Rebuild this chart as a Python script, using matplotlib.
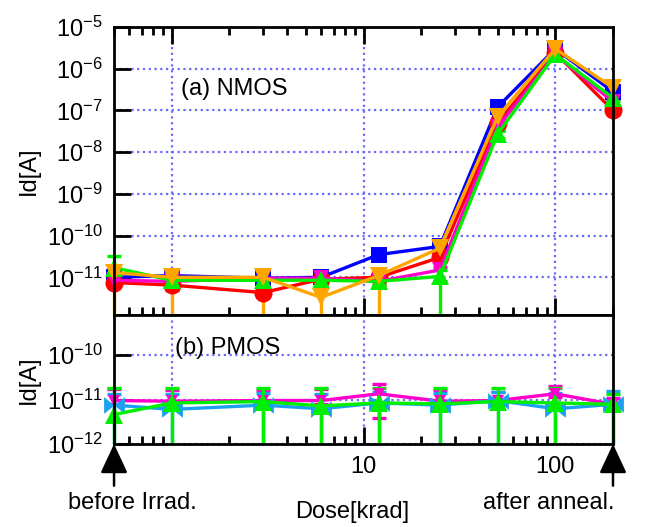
import numpy as np
import matplotlib
matplotlib.use("Agg")
import matplotlib.pyplot as plt
from matplotlib.ticker import FuncFormatter, NullFormatter, LogLocator

plt.rcParams['font.family'] = ['Liberation Sans', 'DejaVu Sans']
plt.rcParams['mathtext.fontset'] = 'custom'
plt.rcParams['mathtext.rm'] = 'Liberation Sans'

# dose points (0.5 = before irradiation, 200 = after anneal)
doses = [0.5, 1, 3, 6, 12, 25, 50, 100, 200]

# (a) NMOS drain current [A]
nmos_blue = [1.0e-11, 1.1e-11, 0.95e-11, 1.0e-11, 3.5e-11, 5.5e-11, 1.2e-7, 3.0e-6, 2.8e-7]
nmos_red = [0.75e-11, 0.65e-11, 0.43e-11, 0.9e-11, 1.0e-11, 3.0e-11, 5.0e-8, 2.4e-6, 1.0e-7]
nmos_magenta = [0.85e-11, 0.8e-11, 0.95e-11, 0.95e-11, 0.8e-11, 1.5e-11, 4.0e-8, 2.2e-6, 1.6e-7]
nmos_green = [1.7e-11, 0.85e-11, 0.85e-11, 0.85e-11, 0.8e-11, 1.05e-11, 2.7e-8, 2.2e-6, 2.0e-7]
nmos_orange = [1.3e-11, 1.0e-11, 1.0e-11, 0.33e-11, 1.1e-11, 5.0e-11, 7.0e-8, 3.0e-6, 3.5e-7]

# error bar bounds (low, high); 0 = bar runs down to the bottom of the panel
nmos_blue_lo = [0.8e-11, 0.9e-11, 0.8e-11, 0.8e-11, 3.0e-11, 4.5e-11, 1.0e-7, 2.6e-6, 2.4e-7]
nmos_blue_hi = [1.3e-11, 1.4e-11, 1.2e-11, 1.3e-11, 4.0e-11, 6.5e-11, 1.4e-7, 3.4e-6, 3.2e-7]
nmos_red_lo = [0.6e-11, 0.5e-11, 0.35e-11, 0.7e-11, 0.8e-11, 2.4e-11, 4.0e-8, 2.0e-6, 0.8e-7]
nmos_red_hi = [1.2e-11, 1.2e-11, 1.1e-11, 1.25e-11, 1.4e-11, 3.5e-11, 6.0e-8, 2.8e-6, 1.2e-7]
nmos_magenta_lo = [0.7e-11, 0.65e-11, 0.8e-11, 0.8e-11, 0.65e-11, 0.8e-11, 3.4e-8, 1.9e-6, 1.3e-7]
nmos_magenta_hi = [1.0e-11, 1.0e-11, 1.1e-11, 1.1e-11, 1.0e-11, 1.8e-11, 4.6e-8, 2.5e-6, 1.9e-7]
nmos_green_lo = [1.2e-11, 0.7e-11, 0.7e-11, 0.7e-11, 0.65e-11, 0, 2.2e-8, 1.9e-6, 1.7e-7]
nmos_green_hi = [3.2e-11, 1.3e-11, 1.3e-11, 1.3e-11, 1.2e-11, 1.5e-11, 3.2e-8, 2.5e-6, 2.3e-7]
nmos_orange_lo = [0, 0, 0, 0, 0, 4.0e-11, 6.0e-8, 2.6e-6, 3.0e-7]
nmos_orange_hi = [1.6e-11, 1.4e-11, 1.4e-11, 1.2e-11, 1.6e-11, 6.0e-11, 8.0e-8, 3.4e-6, 4.0e-7]

# (b) PMOS drain current [A]
pmos_magenta = [0.95e-11, 0.92e-11, 0.95e-11, 0.95e-11, 1.35e-11, 0.92e-11, 0.95e-11, 1.35e-11, 0.78e-11]
pmos_cyan = [0.75e-11, 0.6e-11, 0.75e-11, 0.62e-11, 0.84e-11, 0.75e-11, 0.95e-11, 0.62e-11, 0.78e-11]
pmos_green = [0.46e-11, 0.84e-11, 0.9e-11, 0.72e-11, 0.84e-11, 0.8e-11, 0.9e-11, 0.84e-11, 0.78e-11]

pmos_magenta_lo = [0.8e-11, 0.8e-11, 0.8e-11, 0.8e-11, 0.38e-11, 0.8e-11, 0.8e-11, 1.15e-11, 0.65e-11]
pmos_magenta_hi = [1.7e-11, 1.6e-11, 1.6e-11, 1.7e-11, 2.2e-11, 1.6e-11, 1.5e-11, 2.0e-11, 1.1e-11]
pmos_cyan_lo = [0] * 9
pmos_cyan_hi = [1.35e-11, 1.3e-11, 1.4e-11, 1.3e-11, 1.5e-11, 1.4e-11, 1.5e-11, 1.4e-11, 1.55e-11]
pmos_green_lo = [0] * 9
pmos_green_hi = [1.8e-11, 1.8e-11, 1.8e-11, 1.8e-11, 1.8e-11, 1.8e-11, 1.8e-11, 1.8e-11, 1.3e-11]

top_ylim = (1.25e-12, 1e-5)
bot_ylim = (1e-12, 8e-10)

bowtie = [(-1, 0.8), (1, -0.8), (1, 0.8), (-1, -0.8), (-1, 0.8)]
grid_col = '#6a6aff'
FS = 17


def draw(ax, y, lo, hi, color, marker, ms, ymin):
    y = np.array(y)
    lo = np.array(lo, dtype=float)
    hi = np.array(hi)
    has_lo = lo > 0
    lo_b = np.where(has_lo, lo, ymin)
    ax.errorbar(doses, y, yerr=[y - lo_b, hi - y], color=color, marker=marker, ms=ms,
                lw=2.4, elinewidth=2.4, capsize=0, mew=0, clip_on=False)
    ax.plot(doses, hi, ls='none', marker='_', ms=10, mew=2.4, color=color, clip_on=False)
    ax.plot(np.array(doses)[has_lo], lo[has_lo], ls='none', marker='_', ms=10, mew=2.4,
            color=color, clip_on=False)


fig = plt.figure(figsize=(6.48, 5.27), dpi=100)
ax1 = fig.add_axes([0.176, 0.4023, 0.770, 0.5465])
ax2 = fig.add_axes([0.176, 0.1575, 0.770, 0.2448])

draw(ax1, nmos_blue, nmos_blue_lo, nmos_blue_hi, '#0000ff', 's', 11, top_ylim[0])
draw(ax1, nmos_red, nmos_red_lo, nmos_red_hi, '#ff0000', 'o', 13, top_ylim[0])
draw(ax1, nmos_magenta, nmos_magenta_lo, nmos_magenta_hi, '#ff00cc', 'v', 11, top_ylim[0])
draw(ax1, nmos_green, nmos_green_lo, nmos_green_hi, '#00ee00', '^', 13, top_ylim[0])
draw(ax1, nmos_orange, nmos_orange_lo, nmos_orange_hi, '#ffa500', 'v', 13, top_ylim[0])

draw(ax2, pmos_magenta, pmos_magenta_lo, pmos_magenta_hi, '#ff00cc', 'v', 9, bot_ylim[0])
draw(ax2, pmos_cyan, pmos_cyan_lo, pmos_cyan_hi, '#1ea0f0', bowtie, 15, bot_ylim[0])
draw(ax2, pmos_green, pmos_green_lo, pmos_green_hi, '#00ee00', '^', 13, bot_ylim[0])

yfmt = FuncFormatter(lambda v, p: r'$\mathregular{10^{%d}}$' % round(np.log10(v)))

for ax in (ax1, ax2):
    ax.set_xscale('log')
    ax.set_yscale('log')
    ax.set_xlim(0.5, 200)
    ax.set_xticks([1, 10, 100])
    ax.xaxis.set_minor_locator(LogLocator(base=10, subs=np.arange(2, 10)))
    ax.xaxis.set_minor_formatter(NullFormatter())
    ax.yaxis.set_minor_locator(plt.NullLocator())
    ax.yaxis.set_major_formatter(yfmt)
    for s in ax.spines.values():
        s.set_linewidth(2)
        s.set_zorder(5)
    ax.tick_params(axis='both', which='major', direction='in', length=12, width=2,
                   labelsize=FS, right=False)
    ax.tick_params(axis='y', which='major', pad=8)
    ax.tick_params(axis='x', which='minor', direction='in', length=6, width=2)
    ax.grid(True, which='major', color=grid_col, linestyle=(0, (1, 1.6)), lw=1.6)

ax1.set_ylim(*top_ylim)
ax1.set_yticks([1e-11, 1e-10, 1e-9, 1e-8, 1e-7, 1e-6, 1e-5])
ax1.tick_params(axis='x', which='both', top=True, bottom=True, labelbottom=False)
ax1.text(0.134, 0.785, '(a) NMOS', transform=ax1.transAxes, fontsize=FS, va='center')
ax1.set_ylabel('Id[A]', fontsize=FS)
ax1.yaxis.set_label_coords(-0.148, 0.5)

ax2.set_ylim(*bot_ylim)
ax2.set_yticks([1e-12, 1e-11, 1e-10])
ax2.set_xticklabels(['', '10', '100'])
ax2.tick_params(axis='x', which='both', top=False, bottom=True, pad=9)
ax2.text(0.122, 0.744, '(b) PMOS', transform=ax2.transAxes, fontsize=FS, va='center')
ax2.set_ylabel('Id[A]', fontsize=FS)
ax2.yaxis.set_label_coords(-0.148, 0.5)

# arrows marking before irradiation and after anneal
for xpos in (0.5, 200):
    ax2.annotate('', xy=(xpos, bot_ylim[0]), xytext=(0, -30), textcoords='offset points',
                 arrowprops=dict(arrowstyle='-|>,head_length=0.9,head_width=0.42',
                                 mutation_scale=20, color='black', lw=1.8,
                                 shrinkA=0, shrinkB=0),
                 annotation_clip=False, zorder=6)

ax2.text(0.036, -0.46, 'before Irrad.', transform=ax2.transAxes,
         ha='center', va='center', fontsize=FS)
ax2.text(1.002, -0.46, 'after anneal.', transform=ax2.transAxes,
         ha='right', va='center', fontsize=FS)

fig.text(0.543, 0.028, 'Dose[krad]', ha='center', va='center', fontsize=FS)

fig.savefig('out.png', dpi=100)
